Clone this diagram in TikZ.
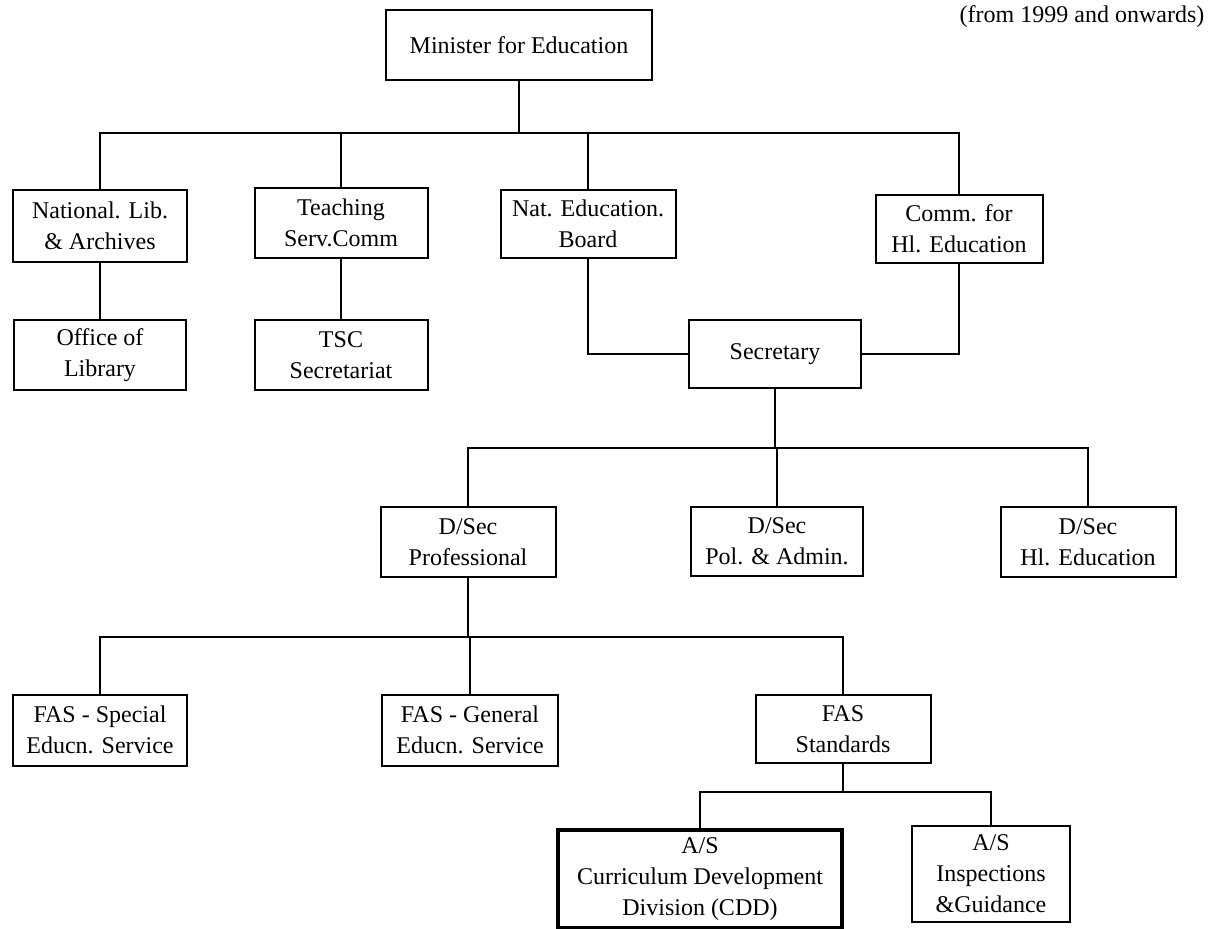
\documentclass[tikz,border=0pt]{standalone}
\usepackage{fontspec}
\setmainfont{Liberation Serif}
\usepackage{tikz}
\usetikzlibrary{positioning, calc}

\begin{document}
\begin{tikzpicture}[x=0.5pt,y=-0.5pt,line width=1pt,
  org/.style={rectangle,draw,align=center,inner sep=0pt,outer sep=0pt,
  font=\fontsize{12}{15.5}\selectfont},
  thickorg/.style={org,line width=2pt}]
  \useasboundingbox (0,0) rectangle (1218,929);

  % bus lines between the levels
  \coordinate (bus1) at (0,133);
  \coordinate (bus2) at (0,448);
  \coordinate (bus3) at (0,637);
  \coordinate (bus4) at (0,792);

  \node[org, minimum width=133pt, minimum height=35pt] (Min) at (519,45) {Minister for Education};
  \node[font=\fontsize{12}{15.5}\selectfont, anchor=east] (Note) at (1212,17) {(from 1999 and onwards)};

  \node[org, minimum width=87pt, minimum height=36pt] (NatLib) at (100,226) {National. Lib.\\ \& Archives};
  \node[org, minimum width=86.5pt, minimum height=35pt] (TSC) at (341,223) {Teaching\\ Serv.Comm};
  \node[org, minimum width=87.5pt, minimum height=34pt] (NEB) at (588,224) {Nat. Education.\\ Board};
  \node[org, minimum width=83.5pt, minimum height=34pt] (CHE) at (959,229) {Comm. for\\ Hl. Education};

  \node[org, minimum width=86pt, minimum height=35pt] (OffLib) at (100,355) {Office of\\ Library};
  \node[org, minimum width=86.5pt, minimum height=35pt] (TSCSec) at (341,355) {TSC\\ Secretariat};
  \node[org, minimum width=86pt, minimum height=34pt] (Sec) at (775,354) {Secretary};

  \node[org, minimum width=87.5pt, minimum height=35pt] (DSecPro) at (468,542) {D/Sec\\ Professional};
  \node[org, minimum width=86pt, minimum height=34.5pt] (DSecPA) at (777,541) {D/Sec\\ Pol. \& Admin.};
  \node[org, minimum width=87.5pt, minimum height=35pt] (DSecHE) at (1088,542) {D/Sec\\ Hl. Education};

  \node[org, minimum width=87pt, minimum height=35.5pt] (FASSp) at (100,730) {FAS - Special\\ Educn. Service};
  \node[org, minimum width=88pt, minimum height=35.5pt] (FASGen) at (470,730) {FAS - General\\ Educn. Service};
  \node[org, minimum width=87.5pt, minimum height=34pt] (FASStd) at (843,729) {FAS\\ Standards};

  \node[thickorg, minimum width=142pt, minimum height=49pt] (CDD) at (700,879) {A/S\\ Curriculum Development\\ Division (CDD)};
  \node[org, minimum width=79pt, minimum height=48pt] (Insp) at (991,874) {A/S\\ Inspections\\ \&Guidance};

  % top level
  \draw (Min.south) -- (Min.south |- bus1);
  \draw (NatLib.north) |- (CHE.north |- bus1) -- (CHE.north);
  \draw (TSC.north) -- (TSC.north |- bus1);
  \draw (NEB.north) -- (NEB.north |- bus1);
  \path (NatLib) edge (OffLib)
        (TSC) edge (TSCSec);
  \draw (NEB.south) |- (Sec.west);
  \draw (CHE.south) |- (Sec.east);

  % secretary level
  \draw (Sec.south) -- (Sec.south |- bus2);
  \draw (DSecPro.north) |- (DSecHE.north |- bus2) -- (DSecHE.north);
  \draw (DSecPA.north) -- (DSecPA.north |- bus2);

  % professional
  \draw (DSecPro.south) -- (DSecPro.south |- bus3);
  \draw (FASSp.north) |- (FASStd.north |- bus3) -- (FASStd.north);
  \draw (FASGen.north) -- (FASGen.north |- bus3);

  % standards
  \draw (FASStd.south) -- (FASStd.south |- bus4);
  \draw (CDD.north) |- (Insp.north |- bus4) -- (Insp.north);
\end{tikzpicture}
\end{document}
